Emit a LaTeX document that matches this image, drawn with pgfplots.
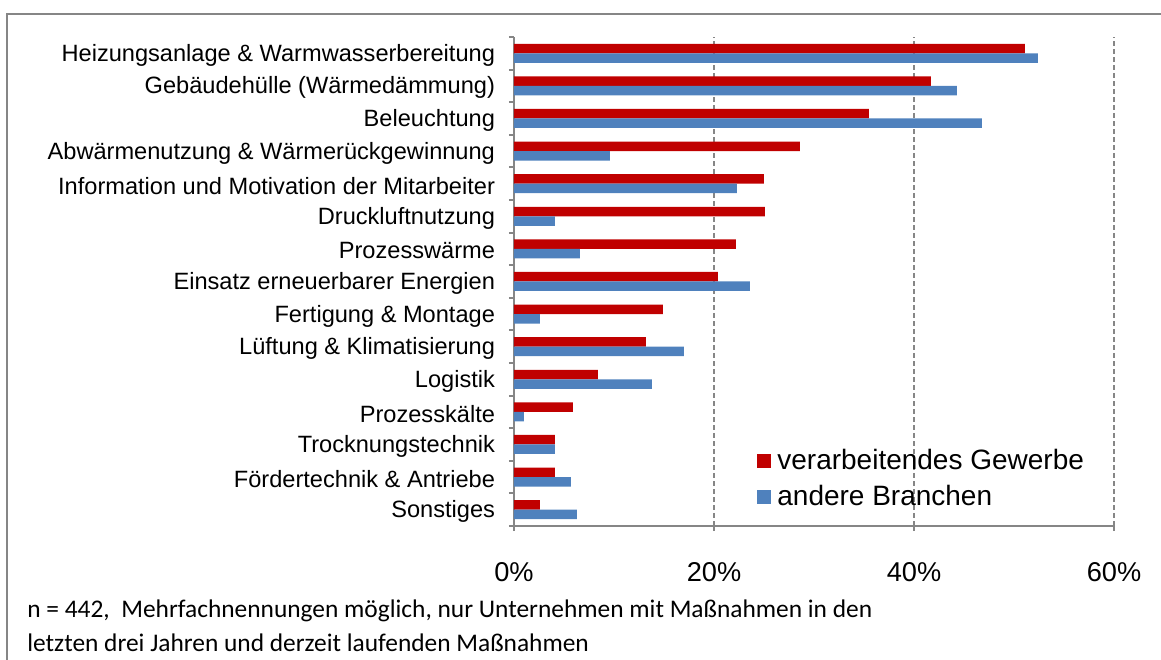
\documentclass[border=0pt]{standalone}
\usepackage{pgfplots}
\pgfplotsset{compat=1.18}
\usepackage{fontspec}
\setmainfont{Liberation Sans}
\newfontfamily\calibri{Carlito}
\definecolor{cred}{HTML}{C00000}
\definecolor{cblue}{HTML}{4F81BD}
\definecolor{cgray}{HTML}{868686}
\begin{document}
\begin{tikzpicture}
\path[use as bounding box] (-257bp,-67bp) rectangle (323.5bp,263bp);
\draw[cgray, line width=1bp] (330bp,256bp) -- (-253.5bp,256bp) -- (-253.5bp,-70bp);
\begin{axis}[
  at={(0,0)}, anchor=south west,
  scale only axis, width=300bp, height=244.5bp,
  xmin=0, xmax=60, ymin=-0.5, ymax=14.5,
  xbar, bar width=4.75bp,
  axis lines*=left, axis line style={cgray, line width=1bp, -},
  tick align=outside, major tick length=2.5bp, minor tick length=2.5bp,
  xtick={0,20,40,60},
  xticklabel={\pgfmathprintnumber{\tick}\%},
  /pgf/number format/assume math mode=true,
  xticklabel style={font=\fontsize{13.6bp}{16bp}\selectfont, yshift=-12bp},
  major x tick style={cgray, line width=1bp},
  xmajorgrids,
  major x grid style={cgray, line width=0.75bp, dash pattern=on 2.5bp off 1.5bp},
  ytick={0,...,14},
  yticklabels={Sonstiges, Fördertechnik \& Antriebe, Trocknungstechnik, Prozesskälte, Logistik, Lüftung \& Klimatisierung, Fertigung \& Montage, Einsatz erneuerbarer Energien, Prozesswärme, Druckluftnutzung, Information und Motivation der Mitarbeiter, Abwärmenutzung \& Wärmerückgewinnung, Beleuchtung, Gebäudehülle (Wärmedämmung), Heizungsanlage \& Warmwasserbereitung},
  yticklabel style={font=\fontsize{11.8bp}{14bp}\selectfont, xshift=-3.5bp, yshift=-1bp},
  major y tick style={draw=none},
  minor ytick={-0.5,0.5,...,14.5},
  minor y tick style={cgray, line width=1bp},
  legend style={at={(0.405,0.166)}, anchor=north west, draw=none, fill=none,
    font=\fontsize{14bp}{17bp}\selectfont, row sep=2.5bp, inner sep=0pt,
    /tikz/every odd column/.append style={column sep=1bp}},
  legend cell align=left,
  legend image code/.code={\fill (0bp,-3.5bp) rectangle (7bp,3.5bp);},
]
\addplot[fill=cred, draw=none, bar shift=2.375bp] coordinates {
(51.1,14) (41.7,13) (35.5,12) (28.6,11) (25.0,10) (25.1,9) (22.2,8) (20.4,7)
(14.9,6) (13.2,5) (8.4,4) (5.9,3) (4.1,2) (4.1,1) (2.6,0)};
\addlegendentry{verarbeitendes Gewerbe}
\addplot[fill=cblue, draw=none, bar shift=-2.375bp] coordinates {
(52.4,14) (44.3,13) (46.8,12) (9.6,11) (22.3,10) (4.1,9) (6.6,8) (23.6,7)
(2.6,6) (17.0,5) (13.8,4) (1.0,3) (4.1,2) (5.7,1) (6.3,0)};
\addlegendentry{andere Branchen}
\end{axis}
\node[anchor=base west, inner sep=0pt, font=\calibri\fontsize{12.7bp}{15bp}\selectfont] at (-243.5bp,-45.5bp) {n = 442,\ \ Mehrfachnennungen möglich, nur Unternehmen mit Maßnahmen in den};
\node[anchor=base west, inner sep=0pt, font=\calibri\fontsize{12.7bp}{15bp}\selectfont] at (-243.5bp,-62.5bp) {letzten drei Jahren und derzeit laufenden Maßnahmen};
\end{tikzpicture}
\end{document}
